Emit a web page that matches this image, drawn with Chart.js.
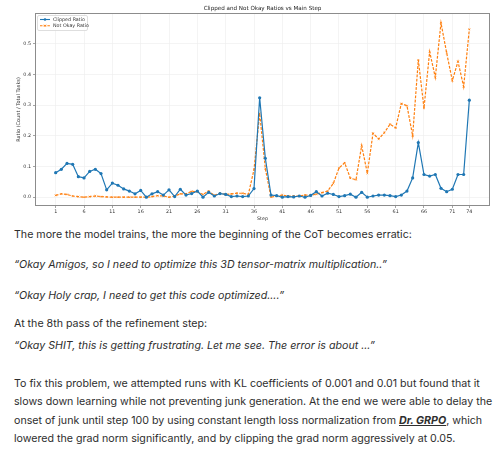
<!DOCTYPE html>
<html>
<head>
<meta charset="utf-8">
<script src="https://cdn.jsdelivr.net/npm/chart.js@4.4.1/dist/chart.umd.min.js"></script>
<style>
  html, body { margin: 0; padding: 0; background: #fff; width: 500px; height: 460px; overflow: hidden; }
  #wrap { position: absolute; left: 0; top: 0; width: 500px; height: 222px; }
  #txt { position: absolute; left: 14px; top: 0; width: 486px; font-family: Inter, "Liberation Sans", sans-serif; color: #2e2e2e; }
  .ln { position: absolute; left: 0; white-space: nowrap; }
  .it { font-style: italic; }
  .lnk { font-weight: 700; font-style: italic; text-decoration: underline; }
</style>
</head>
<body>
<div id="wrap"><canvas id="c" width="500" height="222"></canvas></div>
<div id="txt">
  <div class="ln" data-y="235" data-w="399">The more the model trains, the more the beginning of the CoT becomes erratic:</div>
  <div class="ln it" data-y="265" data-w="374">“Okay Amigos, so I need to optimize this 3D tensor-matrix multiplication..”</div>
  <div class="ln it" data-y="296" data-w="269">“Okay Holy crap, I need to get this code optimized....”</div>
  <div class="ln" data-y="324" data-w="193">At the 8th pass of the refinement step:</div>
  <div class="ln it" data-y="346" data-w="359">“Okay SHIT, this is getting frustrating. Let me see. The error is about ...”</div>
  <div class="ln" data-y="384" data-w="469">To fix this problem, we attempted runs with KL coefficients of 0.001 and 0.01 but found that it</div>
  <div class="ln" data-y="402" data-w="478">slows down learning while not preventing junk generation. At the end we were able to delay the</div>
  <div class="ln" data-y="421" data-w="471">onset of junk until step 100 by using constant length loss normalization from <span class="lnk">Dr. GRPO</span>, which</div>
  <div class="ln" data-y="439" data-w="441">lowered the grad norm significantly, and by clipping the grad norm aggressively at 0.05.</div>
</div>
<script>
// ---- data ----
const steps = Array.from({length: 74}, (_, i) => i + 1);
const clippedRatio = [
  0.080, 0.091, 0.110, 0.107, 0.067, 0.063, 0.084, 0.091, 0.077, 0.024,
  0.046, 0.039, 0.027, 0.020, 0.011, 0.022, 0.000, 0.011, 0.018, 0.007,
  0.024, 0.002, 0.026, 0.007, 0.012, 0.020, 0.000, 0.016, 0.004, 0.012,
  0.009, 0.002, 0.004, 0.002, 0.004, 0.028, 0.324, 0.127, 0.007, 0.005,
  0.000, 0.002, 0.001, 0.004, 0.000, 0.006, 0.018, 0.004, 0.013, 0.009,
  0.002, 0.005, 0.010, 0.000, 0.016, 0.000, 0.004, 0.007, 0.007, 0.005,
  0.002, 0.007, 0.020, 0.063, 0.178, 0.074, 0.069, 0.074, 0.029, 0.018,
  0.026, 0.074, 0.074, 0.316
];
const notOkayRatio = [
  0.006, 0.011, 0.009, 0.004, 0.002, 0.000, 0.002, 0.004, 0.002, 0.001,
  0.000, 0.000, 0.000, 0.000, 0.000, 0.000, 0.000, 0.002, 0.005, 0.004,
  0.000, 0.004, 0.011, 0.011, 0.019, 0.018, 0.009, 0.020, 0.006, 0.013,
  0.009, 0.011, 0.013, 0.013, 0.009, 0.090, 0.273, 0.093, 0.000, 0.004,
  0.007, 0.004, 0.004, 0.004, 0.007, 0.006, 0.010, 0.015, 0.020, 0.045,
  0.095, 0.112, 0.062, 0.057, 0.168, 0.078, 0.208, 0.190, 0.210, 0.238,
  0.226, 0.305, 0.298, 0.200, 0.447, 0.290, 0.474, 0.390, 0.568, 0.470,
  0.380, 0.442, 0.360, 0.547
];
const xTicks = [1, 6, 11, 16, 21, 26, 31, 36, 41, 46, 51, 56, 61, 66, 71, 74];
const yTicks = [0.0, 0.1, 0.2, 0.3, 0.4, 0.5];
const seriesNames = ['Clipped Ratio', 'Not Okay Ratio'];
const chartTitle = 'Clipped and Not Okay Ratios vs Main Step';

const BLUE = '#1f77b4', ORANGE = '#ff7f0e';
const MPL_FONT = '"DejaVu Sans", sans-serif';

const framePlugin = {
  id: 'frame',
  afterDatasetsDraw(chart) {
    const {ctx, chartArea: a} = chart;
    ctx.save();
    ctx.strokeStyle = '#8c8c8c';
    ctx.lineWidth = 1;
    ctx.strokeRect(a.left + 0.5, a.top + 0.5, a.right - a.left - 1, a.bottom - a.top - 1);
    // title
    ctx.fillStyle = '#222';
    ctx.font = '5.6px ' + MPL_FONT;
    ctx.textAlign = 'center';
    ctx.textBaseline = 'alphabetic';
    ctx.fillText(chartTitle, (a.left + a.right) / 2, 10);
    // legend
    const lx = a.left + 2, ly = a.top + 2, lw = 50, lh = 15;
    ctx.fillStyle = 'rgba(255,255,255,0.85)';
    ctx.strokeStyle = '#d6d6d6';
    ctx.lineWidth = 0.8;
    ctx.beginPath();
    if (ctx.roundRect) ctx.roundRect(lx + 0.5, ly + 0.5, lw, lh, 1.5); else ctx.rect(lx + 0.5, ly + 0.5, lw, lh);
    ctx.fill(); ctx.stroke();
    const rows = [[BLUE, [], 'circle'], [ORANGE, [2.5, 1.2], 'cross']];
    ctx.font = '4.8px ' + MPL_FONT;
    ctx.textAlign = 'left';
    ctx.textBaseline = 'middle';
    rows.forEach((r, i) => {
      const yy = ly + 4.5 + i * 6.2;
      ctx.strokeStyle = r[0];
      ctx.lineWidth = 1.1;
      ctx.setLineDash(r[1]);
      ctx.beginPath(); ctx.moveTo(lx + 3, yy); ctx.lineTo(lx + 13, yy); ctx.stroke();
      ctx.setLineDash([]);
      if (r[2] === 'circle') {
        ctx.fillStyle = r[0];
        ctx.beginPath(); ctx.arc(lx + 8, yy, 1.3, 0, Math.PI * 2); ctx.fill();
      } else {
        ctx.lineWidth = 0.8;
        ctx.beginPath();
        ctx.moveTo(lx + 7, yy - 1); ctx.lineTo(lx + 9, yy + 1);
        ctx.moveTo(lx + 9, yy - 1); ctx.lineTo(lx + 7, yy + 1);
        ctx.stroke();
      }
      ctx.fillStyle = '#333';
      ctx.fillText(seriesNames[i], lx + 16, yy + 0.3);
    });
    ctx.restore();
  }
};

new Chart(document.getElementById('c'), {
  type: 'line',
  data: {
    datasets: [
      {
        label: seriesNames[0],
        data: steps.map((s, i) => ({x: s, y: clippedRatio[i]})),
        borderColor: BLUE, backgroundColor: BLUE,
        borderWidth: 1.2, pointRadius: 1.6, pointStyle: 'circle',
        pointBorderWidth: 0, tension: 0, order: 1
      },
      {
        label: seriesNames[1],
        data: steps.map((s, i) => ({x: s, y: notOkayRatio[i]})),
        borderColor: ORANGE, backgroundColor: ORANGE,
        borderWidth: 1.2, borderDash: [2.8, 1.4],
        pointRadius: 1.2, pointStyle: 'crossRot', pointBorderWidth: 0.8,
        tension: 0, order: 2
      }
    ]
  },
  options: {
    responsive: false, animation: false,
    layout: {padding: {left: 0, right: 10, top: 13, bottom: 0}},
    plugins: {legend: {display: false}, title: {display: false}, tooltip: {enabled: false}},
    scales: {
      x: {
        type: 'linear', min: -2.65, max: 77.65,
        afterBuildTicks: s => { s.ticks = xTicks.map(v => ({value: v})); },
        afterFit: s => { s.height = 16; },
        ticks: {autoSkip: false, maxRotation: 0, font: {size: 4.8, family: MPL_FONT}, color: '#333', padding: 1,
                callback: v => String(v)},
        grid: {color: '#ececec', lineWidth: 0.6, drawTicks: true, tickLength: 2, tickColor: '#666'},
        border: {display: false},
        title: {display: true, text: 'Step', font: {size: 4.8, family: MPL_FONT}, color: '#333', padding: {top: 0, bottom: 0}}
      },
      y: {
        type: 'linear', min: -0.0286, max: 0.6,
        afterBuildTicks: s => { s.ticks = yTicks.map(v => ({value: v})); },
        afterFit: s => { s.width = 35; },
        ticks: {font: {size: 4.8, family: MPL_FONT}, color: '#333', padding: 2,
                callback: v => Number(v).toFixed(1)},
        grid: {color: '#ececec', lineWidth: 0.6, drawTicks: true, tickLength: 2, tickColor: '#666'},
        border: {display: false},
        title: {display: true, text: 'Ratio (Count / Total Tasks)', font: {size: 5, family: MPL_FONT}, color: '#333', padding: {top: 16, bottom: 0}}
      }
    }
  },
  plugins: [framePlugin]
});

// fit text lines to reference widths
(function () {
  const lines = document.querySelectorAll('#txt .ln');
  const base = 13;
  let ratios = [];
  lines.forEach(el => { el.style.fontSize = base + 'px'; });
  lines.forEach(el => { ratios.push(parseFloat(el.dataset.w) / el.getBoundingClientRect().width); });
  const avg = ratios.reduce((a, b) => a + b, 0) / ratios.length;
  const fs = base * avg;
  lines.forEach(el => {
    el.style.fontSize = fs.toFixed(2) + 'px';
    el.style.lineHeight = '1';
    const h = el.getBoundingClientRect().height;
    el.style.top = (parseFloat(el.dataset.y) - h / 2) + 'px';
  });
})();
</script>
</body>
</html>
